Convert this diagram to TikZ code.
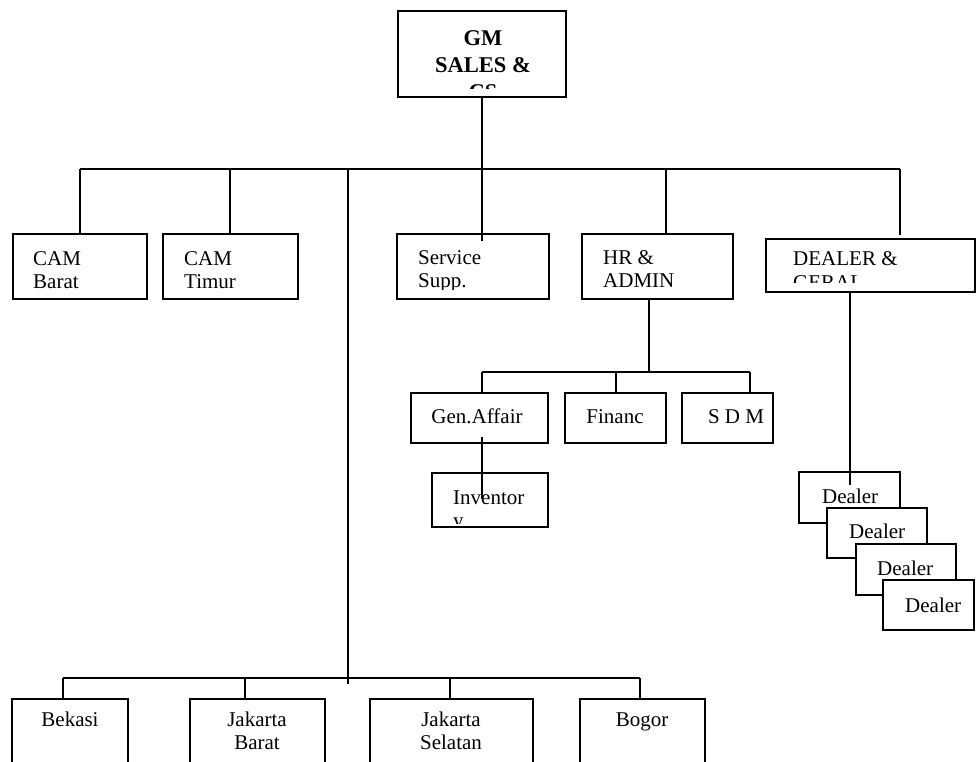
\documentclass[tikz,border=0pt]{standalone}
\usepackage{fontspec}
\setmainfont{Liberation Serif}
\begin{document}
\begin{tikzpicture}[x=1pt,y=-1pt,
  box/.style={draw, rectangle, inner sep=0pt, line width=1.8pt},
  dbox/.style={box, fill=white},
  txt/.style={inner sep=0pt, anchor=base west, font=\fontsize{21}{23}\selectfont},
  ctxt/.style={inner sep=0pt, anchor=base, font=\fontsize{21}{23}\selectfont},
  btxt/.style={inner sep=0pt, anchor=base, font=\bfseries\fontsize{22.5}{27}\selectfont},
  wire/.style={draw, line width=1.8pt}]
\useasboundingbox[fill=white] (0,0) rectangle (976,761);

% ---------- boxes ----------
\node[box, minimum width=168pt, minimum height=86pt] (gm) at (482,54) {};
\node[box, minimum width=134pt, minimum height=65pt] (camb) at (80,266.5) {};
\node[box, minimum width=135pt, minimum height=65pt] (camt) at (230.5,266.5) {};
\node[box, minimum width=152pt, minimum height=65pt] (svc) at (473,266.5) {};
\node[box, minimum width=151pt, minimum height=65pt] (hr) at (657.5,266.5) {};
\node[box, minimum width=209pt, minimum height=53pt] (dlr) at (870.5,265.5) {};
\node[box, minimum width=137pt, minimum height=50pt] (gen) at (479.5,418) {};
\node[box, minimum width=101pt, minimum height=50pt] (fin) at (615.5,418) {};
\node[box, minimum width=91pt, minimum height=50pt] (sdm) at (727.5,418) {};
\node[box, minimum width=116pt, minimum height=54pt] (inv) at (490,500) {};
\node[dbox, minimum width=101pt, minimum height=51pt] (d1) at (849.5,497.5) {};
\node[dbox, minimum width=100pt, minimum height=50pt] (d2) at (877,533) {};
\node[dbox, minimum width=100pt, minimum height=51pt] (d3) at (906,569.5) {};
\node[dbox, minimum width=91pt, minimum height=50pt] (d4) at (928.5,605) {};
\node[box, minimum width=116pt, minimum height=90pt] (bek) at (70,744) {};
\node[box, minimum width=135pt, minimum height=90pt] (jb) at (257.5,744) {};
\node[box, minimum width=163pt, minimum height=90pt] (js) at (451.5,744) {};
\node[box, minimum width=125pt, minimum height=90pt] (bog) at (642.5,744) {};

% ---------- bus coordinates ----------
\coordinate (busL) at (80,169);
\coordinate (busR) at (900,169);
\coordinate (busT) at (230,169);
\coordinate (busM) at (348,169);
\coordinate (busH) at (666,169);
\coordinate (mEnd) at (348,684);
\coordinate (bL) at (63,678);
\coordinate (bJB) at (245,678);
\coordinate (bJS) at (450,678);
\coordinate (bR) at (640,678);
\coordinate (hrL) at (482,372);
\coordinate (hrF) at (616,372);
\coordinate (hrR) at (750,372);
\coordinate (hrM) at (649,372);

% ---------- connectors ----------
\draw[wire] (gm.south) -- ([yshift=-8pt]gm.south |- svc.north);
\draw[wire] (busL) -- (busR);
\draw[wire] (busL) -- (camb.north);
\draw[wire] (busT) -- (busT |- camt.north);
\draw[wire] (busH) -- (busH |- hr.north);
\draw[wire] (busR) -- ([yshift=3pt]busR |- dlr.north);
\draw[wire] (busM) -- (mEnd);
\draw[wire] (bL) -- (bR);
\draw[wire] (bL) -- (bL |- bek.north);
\draw[wire] (bJB) -- (bJB |- jb.north);
\draw[wire] (bJS) -- (bJS |- js.north);
\draw[wire] (bR) -- (bR |- bog.north);
\draw[wire] (hrM |- hr.south) -- (hrM);
\draw[wire] (hrL) -- (hrR);
\draw[wire] (hrL) -- (hrL |- gen.north);
\draw[wire] (hrF) -- (hrF |- fin.north);
\draw[wire] (hrR) -- (hrR |- sdm.north);
\draw[wire] ([yshift=7pt]hrL |- gen.south) -- ([yshift=-27pt]hrL |- inv.north);
\draw[wire] (850,292) -- (850,485);

% ---------- texts ----------
\begin{scope}
\clip (398,11) rectangle (566,88);
\node[btxt] (gmA) at (483,45) {GM};
\node[btxt] (gmB) at (483,72) {SALES \&};
\node[btxt] (gmC) at (483,99) {CS};
\end{scope}

\node[txt] (cbA) at (33,265) {CAM};
\node[txt] (cbB) at (33,288) {Barat};
\node[txt] (ctA) at (184,265) {CAM};
\node[txt] (ctB) at (184,288) {Timur};

\begin{scope}
\clip (398,235) rectangle (548,289);
\node[txt] (svA) at (418,264) {Service};
\node[txt] (svB) at (418,287) {Supp.};
\end{scope}

\node[txt] (hrA) at (603,264) {HR \&};
\node[txt] (hrB) at (603,287) {ADMIN};

\begin{scope}
\clip (767,240) rectangle (974,282);
\node[txt] (dlA) at (793,265) {DEALER \&};
\node[txt] (dlB) at (793,289) {GERAL};
\end{scope}

\node[ctxt] (gnT) at (477,423) {Gen.Affair};
\node[ctxt] (fnT) at (615,423) {Financ};
\node[ctxt] (sdT) at (736,423) {S D M};

\begin{scope}
\clip (433,474) rectangle (547,523);
\node[txt] (ivA) at (453,504) {Inventor};
\node[txt] (ivB) at (453,527) {y};
\end{scope}

\node[txt] (d1T) at (822,503) {Dealer};
\node[txt] (d2T) at (849,538) {Dealer};
\node[txt] (d3T) at (877,575) {Dealer};
\node[txt] (d4T) at (905,612) {Dealer};

\node[ctxt] (bkT) at (70,726) {Bekasi};
\node[ctxt] (jbA) at (257,726) {Jakarta};
\node[ctxt] (jbB) at (257,749) {Barat};
\node[ctxt] (jsA) at (451,726) {Jakarta};
\node[ctxt] (jsB) at (451,749) {Selatan};
\node[ctxt] (bgT) at (642,726) {Bogor};
\end{tikzpicture}
\end{document}
